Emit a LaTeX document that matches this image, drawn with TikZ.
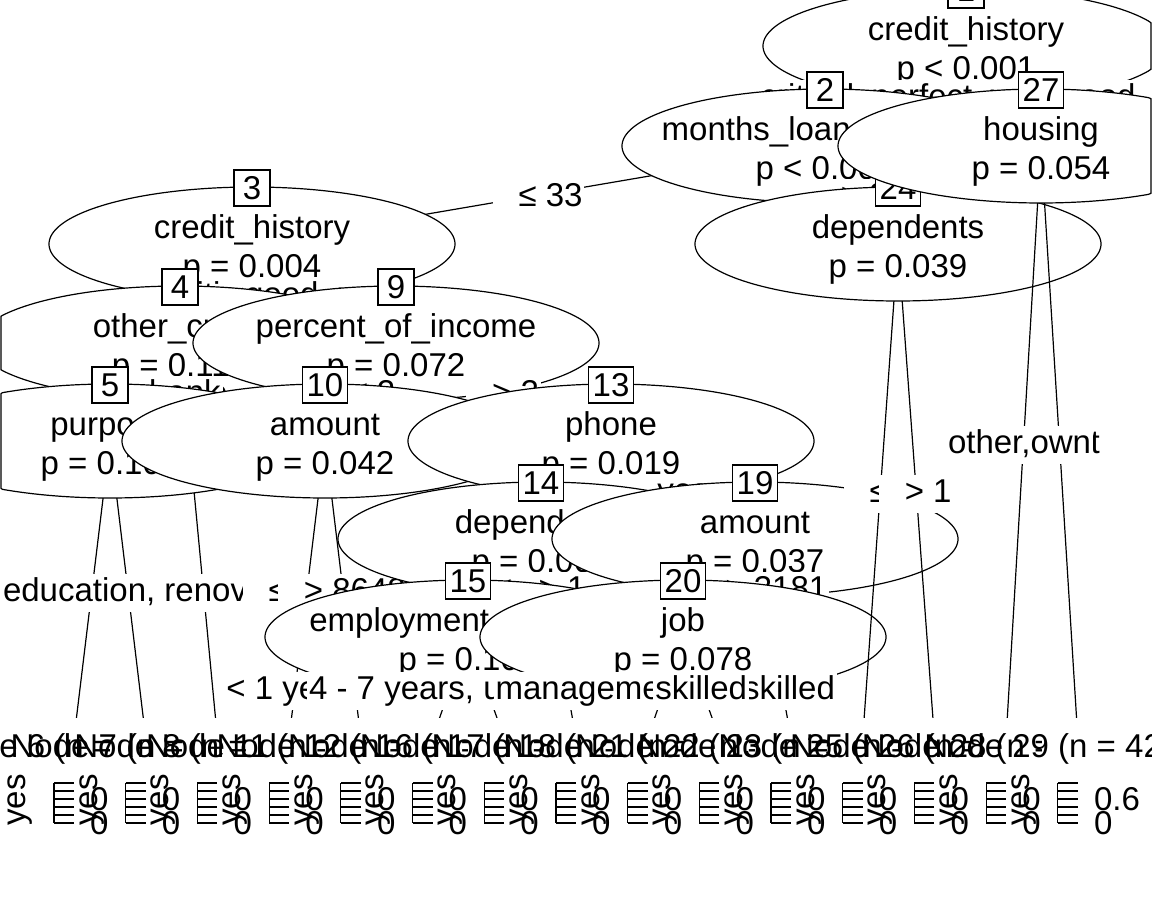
\documentclass[tikz,border=0pt]{standalone}
\usepackage{fontspec}
\setmainfont{Liberation Sans}
\usetikzlibrary{calc}

\newcommand{\tsize}{\fontsize{33}{38}\selectfont}

\tikzset{
  every node/.style={font=\tsize, text=black},
  treeedge/.style={line width=1.2pt, draw=black},
  splitshape/.style={fill=white, draw=black, line width=1.2pt},
  idbox/.style={draw=black, fill=white, line width=1.2pt, minimum width=36pt,
    minimum height=36pt, inner xsep=4pt, inner ysep=0pt},
  splitlab/.style={fill=white, inner xsep=2pt, inner ysep=2.5pt,
    text height=25pt, text depth=8pt},
  vartext/.style={anchor=base, inner sep=0pt},
  leaflab/.style={anchor=base, inner sep=0pt},
  axisline/.style={line width=1.2pt, draw=black},
}

% inner node: clamped ellipse, variable name, p-value and id box
\newcommand{\splitell}[2]{%
  \filldraw[splitshape] plot[domain=0:360, samples=181]
    ({min(max(#1+203*cos(\x),1),1151)}, {#2+57*sin(\x)}) -- cycle;}
\newcommand{\splitnode}[6]{%
  \splitell{#2}{#3}
  \node[vartext] (#1v) at ({#2},{#3-6}) {#5};
  \node[vartext] (#1p) at ({#2},{#3+33}) {#6};
  \node[idbox] (#1) at ({#2},{#3-56}) {#4};
}
% terminal panel: white background, header, class label, right axis
\newcommand{\leafpanel}[3]{%
  \fill[white] ({#1-35.85},718) rectangle ({#1+35.85},845);
  \node[leaflab] (leaf#2) at ({#1-20},757) {Node #2 (n = #3)};
  \node[rotate=90, inner sep=0pt] (leaf#2y) at ({#1-54},800) {yes};
  \draw[axisline] ({#1-20},783) -- ({#1-20},823);
  \foreach \k in {0,...,5} \draw[axisline] ({#1-20},{783+8*\k}) -- ({#1},{783+8*\k});
  \node[anchor=west, inner sep=0pt] (leaf#2a) at ({#1+16},799) {0.6};
  \node[anchor=west, inner sep=0pt] (leaf#2b) at ({#1+16},823) {0};
}
\newcommand{\lead}{\hspace*{24pt}}

\begin{document}
\begin{tikzpicture}[x=1pt, y=-1pt]
\useasboundingbox (0,0) rectangle (1152,921);
\fill[white] (0,0) rectangle (1152,921);
\clip (0,0) rectangle (1152,921);

% centres of inner nodes
\coordinate (c1) at (966,46);
\coordinate (c2) at (825,146);
\coordinate (c27) at (1041,146);
\coordinate (c3) at (252,244);
\coordinate (c24) at (898,244);
\coordinate (c4) at (180,343);
\coordinate (c9) at (396,343);
\coordinate (c5) at (110,441);
\coordinate (c10) at (325,441);
\coordinate (c13) at (611,441);
\coordinate (c14) at (541,539);
\coordinate (c19) at (755,539);
\coordinate (c15) at (468,637);
\coordinate (c20) at (683,637);
% terminal anchor points (panel tops are covered from y = 718 on)
\coordinate (t6) at (74,738);
\coordinate (t7) at (145.7,738);
\coordinate (t8) at (217.4,738);
\coordinate (t11) at (289.1,738);
\coordinate (t12) at (360.8,738);
\coordinate (t16) at (432.5,738);
\coordinate (t17) at (504.2,738);
\coordinate (t18) at (575.9,738);
\coordinate (t21) at (647.6,738);
\coordinate (t22) at (719.3,738);
\coordinate (t23) at (791,738);
\coordinate (t25) at (862.7,738);
\coordinate (t26) at (934.4,738);
\coordinate (t28) at (1006.1,738);
\coordinate (t29) at (1077.8,738);

% node 1
\draw[treeedge] (c1) -- (c2);
\draw[treeedge] (c1) -- (c27);
\splitnode{n1}{966}{46}{1}{credit\_history}{p < 0.001}
\node[splitlab] (e2) at ($(c1)!0.5!(c2)+(0,3)$) {critical, good, poor};
\node[splitlab] (e27) at ($(c1)!0.5!(c27)+(0,3)$) {perfect, very good};

% node 2
\draw[treeedge] (c2) -- (c3);
\draw[treeedge] (c2) -- (c24);
\splitnode{n2}{825}{146}{2}{months\_loan\_duration}{p < 0.001}
\node[splitlab] (e3) at ($(c2)!0.5!(c3)+(0,3)$) {\lead≤ 33};
\node[splitlab] (e24) at ($(c2)!0.5!(c24)+(0,3)$) {\lead> 33};

% node 3
\draw[treeedge] (c3) -- (c4);
\draw[treeedge] (c3) -- (c9);
\splitnode{n3}{252}{244}{3}{credit\_history}{p = 0.004}
\node[splitlab] (e4) at ($(c3)!0.5!(c4)+(0,3)$) {critical};
\node[splitlab] (e9) at ($(c3)!0.5!(c9)+(0,3)$) {good, poor};

% node 4
\draw[treeedge] (c4) -- (c5);
\draw[treeedge] (c4) -- (t8);
\splitnode{n4}{180}{343}{4}{other\_credit}{p = 0.116}
\node[splitlab] (e5) at ($(c4)!0.5!(c5)+(0,3)$) {none, store};
\node[splitlab] (e8) at ($(c4)!0.1316!(t8)$) {bank};

% node 5
\draw[treeedge] (c5) -- (t6);
\draw[treeedge] (c5) -- (t7);
\splitnode{n5}{110}{441}{5}{purpose}{p = 0.107}
\node[splitlab] (e6) at ($(c5)!0.5!(t6)+(0,3)$) {business, car, furniture/appliances};
\node[splitlab] (e7) at ($(c5)!0.5!(t7)+(0,3)$) {car0, education, renovations};
\leafpanel{74}{6}{51}
\leafpanel{145.7}{7}{38}
\leafpanel{217.4}{8}{112}

% node 9
\draw[treeedge] (c9) -- (c10);
\draw[treeedge] (c9) -- (c13);
\splitnode{n9}{396}{343}{9}{percent\_of\_income}{p = 0.072}
\node[splitlab] (e10) at ($(c9)!0.5!(c10)+(0,3)$) {\lead≤ 2};
\node[splitlab] (e13) at ($(c9)!0.5!(c13)+(0,3)$) {\lead> 2};

% node 10
\draw[treeedge] (c10) -- (t11);
\draw[treeedge] (c10) -- (t12);
\splitnode{n10}{325}{441}{10}{amount}{p = 0.042}
\node[splitlab] (e11) at ($(c10)!0.5!(t11)+(0,3)$) {\lead≤ 8648};
\node[splitlab] (e12) at ($(c10)!0.5!(t12)+(0,3)$) {\lead> 8648};
\leafpanel{289.1}{11}{64}
\leafpanel{360.8}{12}{15}

% node 13
\draw[treeedge] (c13) -- (c14);
\draw[treeedge] (c13) -- (c19);
\splitnode{n13}{611}{441}{13}{phone}{p = 0.019}
\node[splitlab] (e14) at ($(c13)!0.5!(c14)+(0,3)$) {no};
\node[splitlab] (e19) at ($(c13)!0.5!(c19)+(0,3)$) {yes};

% node 14
\draw[treeedge] (c14) -- (c15);
\draw[treeedge] (c14) -- (t18);
\splitnode{n14}{541}{539}{14}{dependents}{p = 0.064}
\node[splitlab] (e15) at ($(c14)!0.5!(c15)+(0,3)$) {\lead≤ 1};
\node[splitlab] (e18) at ($(c14)!0.2613!(t18)$) {\lead> 1};

% node 15
\draw[treeedge] (c15) -- (t16);
\draw[treeedge] (c15) -- (t17);
\splitnode{n15}{468}{637}{15}{employment\_duration}{p = 0.109}
\node[splitlab] (e16) at ($(c15)!0.5!(t16)+(0,3)$) {< 1 year, > 7 years, 1 - 4 years};
\node[splitlab] (e17) at ($(c15)!0.5!(t17)+(0,3)$) {4 - 7 years, unemployed};
\leafpanel{432.5}{16}{43}
\leafpanel{504.2}{17}{19}
\leafpanel{575.9}{18}{27}

% node 19
\draw[treeedge] (c19) -- (c20);
\draw[treeedge] (c19) -- (t23);
\splitnode{n19}{755}{539}{19}{amount}{p = 0.037}
\node[splitlab] (e20) at ($(c19)!0.5!(c20)+(0,3)$) {\lead≤ 3181};
\node[splitlab] (e23) at ($(c19)!0.2613!(t23)$) {\lead> 3181};

% node 20
\draw[treeedge] (c20) -- (t21);
\draw[treeedge] (c20) -- (t22);
\splitnode{n20}{683}{637}{20}{job}{p = 0.078}
\node[splitlab] (e21) at ($(c20)!0.5!(t21)+(0,3)$) {management, unskilled};
\node[splitlab] (e22) at ($(c20)!0.5!(t22)+(0,3)$) {skilled};
\leafpanel{647.6}{21}{33}
\leafpanel{719.3}{22}{58}
\leafpanel{791}{23}{124}

% node 24
\draw[treeedge] (c24) -- (t25);
\draw[treeedge] (c24) -- (t26);
\splitnode{n24}{898}{244}{24}{dependents}{p = 0.039}
\node[splitlab] (e25) at ($(c24)!0.5!(t25)+(0,3)$) {\lead≤ 1};
\node[splitlab] (e26) at ($(c24)!0.5!(t26)+(0,3)$) {\lead> 1};
\leafpanel{862.7}{25}{96}
\leafpanel{934.4}{26}{13}

% node 27
\draw[treeedge] (c27) -- (t28);
\draw[treeedge] (c27) -- (t29);
\splitnode{n27}{1041}{146}{27}{housing}{p = 0.054}
\node[splitlab] (e29) at ($(c27)!0.5!(t29)+(12,3)$) {rent};
\node[splitlab] (e28) at ($(c27)!0.5!(t28)+(-4,3)$) {other,own};
\leafpanel{1006.1}{28}{47}
\leafpanel{1077.8}{29}{421}
\end{tikzpicture}
\end{document}
